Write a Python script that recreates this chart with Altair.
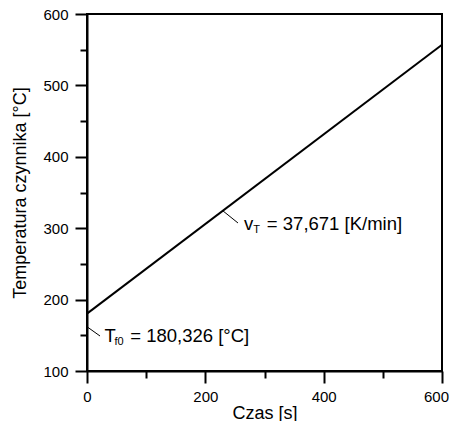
import altair as alt
import pandas as pd

FONT = "Liberation Sans"

# data
czas = [0, 600]
temperatura = [180.326, 557.036]

x_major = [0, 200, 400, 600]
x_minor = [100, 300, 500]
y_major = [100, 200, 300, 400, 500, 600]
y_minor = [150, 250, 350, 450, 550]

# annotation text pieces (main size)
ann_text = ["T", "= 180,326 [°C]", "v", "= 37,671 [K/min]"]
ann_x = [29.5, 73.0, 265.5, 304.0]
ann_y = [149.5, 149.5, 305.5, 305.5]
# subscripts
sub_text = ["f0", "T"]
sub_x = [46.5, 281.0]
sub_y = [140.5, 298.0]
# leader lines
lead_x = [0, 229.4]
lead_y = [162.0, 324.5]
lead_x2 = [22.0, 255.2]
lead_y2 = [149.0, 307.3]

line_df = pd.DataFrame({"czas": czas, "temp": temperatura})
ann_df = pd.DataFrame({"t": ann_text, "x": ann_x, "y": ann_y})
sub_df = pd.DataFrame({"t": sub_text, "x": sub_x, "y": sub_y})
lead_df = pd.DataFrame({"x": lead_x, "y": lead_y, "x2": lead_x2, "y2": lead_y2})

xs = alt.Scale(domain=[0, 600], nice=False, zero=False)
ys = alt.Scale(domain=[100, 600], nice=False, zero=False)

common = dict(labelFont=FONT, titleFont=FONT, labelColor="black", titleColor="black",
              domainColor="black", tickColor="black", titleFontWeight="normal",
              labelFlush=False)

major_x_axis = alt.Axis(values=x_major, title="Czas [s]", orient="bottom", tickSize=12,
                        tickWidth=2, domainWidth=2, labelPadding=6, titlePadding=0,
                        labelFontSize=15, titleFontSize=18, grid=False,
                        labelOffset={"condition": {"test": "datum.value == 600", "value": -6},
                                     "value": 0},
                        **common)
major_y_axis = alt.Axis(values=y_major, title="Temperatura czynnika [°C]", orient="left",
                        tickSize=12, tickWidth=2, domainWidth=2, labelPadding=7,
                        titlePadding=13, labelFontSize=15, titleFontSize=18, grid=False,
                        **common)
minor_x_axis = alt.Axis(values=x_minor, title=None, orient="bottom", tickSize=7, tickWidth=2,
                        tickColor="black", labels=False, domain=False, grid=False)
minor_y_axis = alt.Axis(values=y_minor, title=None, orient="left", tickSize=7, tickWidth=2,
                        tickColor="black", labels=False, domain=False, grid=False)

line = alt.Chart(line_df).mark_line(color="black", strokeWidth=2).encode(
    x=alt.X("czas:Q", scale=xs, axis=major_x_axis),
    y=alt.Y("temp:Q", scale=ys, axis=major_y_axis),
)

leads = alt.Chart(lead_df).mark_rule(color="black", strokeWidth=1).encode(
    x=alt.X("x:Q", scale=xs, axis=minor_x_axis),
    y=alt.Y("y:Q", scale=ys, axis=minor_y_axis),
    x2="x2:Q",
    y2="y2:Q",
)

ann = alt.Chart(ann_df).mark_text(align="left", baseline="middle", fontSize=18.5,
                                  font=FONT, color="black").encode(
    x=alt.X("x:Q", scale=xs, axis=None),
    y=alt.Y("y:Q", scale=ys, axis=None),
    text="t:N",
)

sub = alt.Chart(sub_df).mark_text(align="left", baseline="middle", fontSize=11,
                                  font=FONT, color="black").encode(
    x=alt.X("x:Q", scale=xs, axis=None),
    y=alt.Y("y:Q", scale=ys, axis=None),
    text="t:N",
)

chart = alt.layer(line, leads, ann, sub).resolve_axis(
    x="independent", y="independent"
).properties(
    width=355, height=357,
    autosize=alt.AutoSizeParams(type="none"),
    padding={"left": 79, "top": 6, "right": 7, "bottom": 50},
    background="white",
).configure_view(
    stroke="black", strokeWidth=2
)

chart.save("out.html", embed_options={"renderer": "svg", "actions": False})
